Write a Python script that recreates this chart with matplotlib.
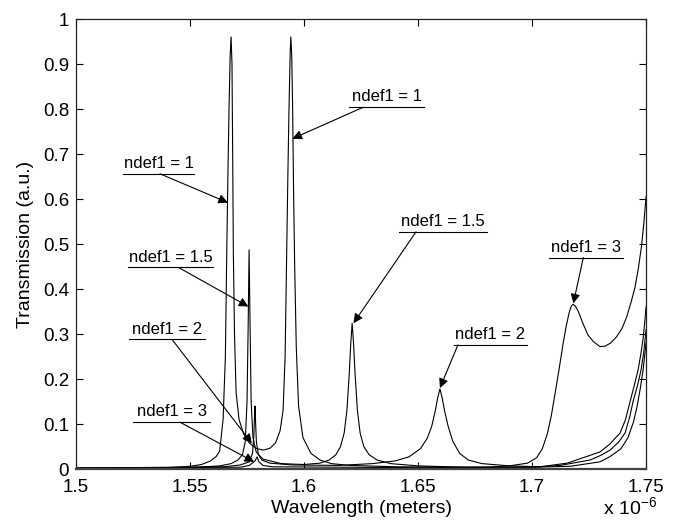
import matplotlib
matplotlib.use('Agg')
import matplotlib.pyplot as plt
import numpy as np

plt.rcParams['font.family'] = ['Liberation Sans', 'DejaVu Sans']
plt.rcParams['mathtext.fontset'] = 'custom'
plt.rcParams['mathtext.rm'] = 'Liberation Sans'

# transmission spectra, wavelength in micrometres (plotted as x 10^-6 m)
wl_n1 = [1.500, 1.540, 1.550, 1.555, 1.559, 1.5615, 1.5630, 1.5645, 1.5655, 1.5661,
         1.5666, 1.5671, 1.5676, 1.5680, 1.5684, 1.5687, 1.5690, 1.5695, 1.5702,
         1.5715, 1.5735, 1.5760, 1.5790, 1.5820, 1.5850, 1.5875, 1.5895, 1.5908,
         1.5917, 1.5923, 1.5929, 1.5934, 1.5939, 1.5942, 1.5946, 1.5950, 1.5954,
         1.5959, 1.5966, 1.5976, 1.5995, 1.6030, 1.6070, 1.6120, 1.6200, 1.6400,
         1.6700, 1.7000, 1.7167, 1.7298, 1.7340, 1.7390, 1.7421, 1.7445, 1.7461,
         1.7475, 1.7487, 1.7500]
tr_n1 = [0.002, 0.003, 0.006, 0.010, 0.018, 0.028, 0.040, 0.110, 0.250, 0.480,
         0.650, 0.800, 0.920, 0.960, 0.900, 0.700, 0.480, 0.300, 0.170,
         0.110, 0.078, 0.058, 0.046, 0.042, 0.046, 0.058, 0.085, 0.130,
         0.250, 0.450, 0.650, 0.800, 0.920, 0.960, 0.920, 0.800, 0.620,
         0.450, 0.270, 0.140, 0.070, 0.035, 0.020, 0.012, 0.008, 0.005,
         0.004, 0.004, 0.006, 0.016, 0.027, 0.045, 0.070, 0.105, 0.140,
         0.180, 0.220, 0.280]

wl_n15 = [1.500, 1.550, 1.563, 1.568, 1.5710, 1.5730, 1.5742, 1.5750, 1.5755, 1.5759,
          1.5763, 1.5768, 1.5776, 1.5790, 1.5820, 1.5900, 1.6000, 1.6070, 1.6110,
          1.6140, 1.6160, 1.6176, 1.6188, 1.6198, 1.6205, 1.6211, 1.6217, 1.6224,
          1.6234, 1.6246, 1.6262, 1.6285, 1.6320, 1.6380, 1.6500, 1.6700, 1.7000,
          1.7123, 1.7254, 1.7300, 1.7342, 1.7380, 1.7408, 1.7428, 1.7443, 1.7462,
          1.7478, 1.7490, 1.7500]
tr_n15 = [0.002, 0.003, 0.007, 0.012, 0.020, 0.032, 0.060, 0.150, 0.320, 0.487,
          0.330, 0.150, 0.070, 0.038, 0.022, 0.012, 0.010, 0.013, 0.020,
          0.032, 0.050, 0.080, 0.130, 0.210, 0.280, 0.324, 0.280, 0.210,
          0.130, 0.080, 0.050, 0.032, 0.020, 0.012, 0.007, 0.004, 0.004,
          0.008, 0.020, 0.030, 0.042, 0.060, 0.080, 0.115, 0.150, 0.185,
          0.220, 0.260, 0.310]

wl_n2 = [1.500, 1.565, 1.572, 1.5760, 1.5774, 1.5780, 1.5783, 1.5785, 1.5787, 1.5791,
         1.5800, 1.5815, 1.5850, 1.5950, 1.6150, 1.6300, 1.6400, 1.6460, 1.6510,
         1.6540, 1.6560, 1.6575, 1.6587, 1.6596, 1.6605, 1.6617, 1.6632, 1.6652,
         1.6682, 1.6720, 1.6780, 1.6900, 1.7035, 1.7154, 1.7298, 1.7340, 1.7386,
         1.7410, 1.7430, 1.7448, 1.7465, 1.7477, 1.7487, 1.7494, 1.7500]
tr_n2 = [0.002, 0.005, 0.009, 0.016, 0.035, 0.075, 0.120, 0.140, 0.110, 0.060,
         0.032, 0.020, 0.013, 0.009, 0.008, 0.012, 0.018, 0.027, 0.045,
         0.068, 0.095, 0.128, 0.160, 0.178, 0.160, 0.128, 0.095, 0.062,
         0.035, 0.020, 0.012, 0.007, 0.005, 0.013, 0.038, 0.055, 0.080,
         0.110, 0.150, 0.185, 0.220, 0.255, 0.290, 0.325, 0.360]

wl_n3 = [1.500, 1.572, 1.576, 1.5785, 1.5794, 1.5802, 1.5820, 1.5860, 1.6500, 1.6800,
         1.6900, 1.6980, 1.7020, 1.7045, 1.7068, 1.7085, 1.7100, 1.7118, 1.7135,
         1.7150, 1.7163, 1.7172, 1.7180, 1.7190, 1.7203, 1.7222, 1.7245, 1.7269,
         1.7298, 1.7320, 1.7345, 1.7371, 1.7395, 1.7415, 1.7435, 1.7452, 1.7466,
         1.7480, 1.7490, 1.7500]
tr_n3 = [0.002, 0.004, 0.008, 0.018, 0.027, 0.016, 0.008, 0.005, 0.003, 0.004,
         0.007, 0.013, 0.025, 0.045, 0.080, 0.120, 0.165, 0.220, 0.275,
         0.318, 0.348, 0.362, 0.366, 0.362, 0.350, 0.325, 0.298, 0.283,
         0.272, 0.273, 0.280, 0.294, 0.313, 0.338, 0.372, 0.405, 0.445,
         0.495, 0.545, 0.605]

# label text, underline centre/half-width, arrow start and tip (data units)
labels = ['ndef1 = 1', 'ndef1 = 1.5', 'ndef1 = 2', 'ndef1 = 3',
          'ndef1 = 1', 'ndef1 = 1.5', 'ndef1 = 2', 'ndef1 = 3']
label_xy = [(1.5362, 0.656), (1.5414, 0.448), (1.5399, 0.288), (1.5419, 0.104),
            (1.6362, 0.804), (1.6610, 0.527), (1.6818, 0.276), (1.7237, 0.470)]
line_half = [0.0156, 0.0187, 0.0167, 0.0169, 0.0165, 0.0193, 0.0160, 0.0162]
arrow_from = [1.5368, 1.5449, 1.5421, 1.5456, 1.6260, 1.6491, 1.6675, 1.7225]
arrow_to = [(1.5666, 0.592), (1.5756, 0.361), (1.5771, 0.057), (1.5781, 0.016),
            (1.5949, 0.734), (1.6217, 0.324), (1.6596, 0.180), (1.7181, 0.368)]

fig = plt.figure(figsize=(6.77, 5.22), dpi=100)
ax = fig.add_axes([0.1123, 0.1015, 0.8420, 0.8621])

for wl, tr in [(wl_n1, tr_n1), (wl_n15, tr_n15), (wl_n2, tr_n2), (wl_n3, tr_n3)]:
    ax.plot(wl, tr, color='k', lw=0.8)

for txt, (cx, ly), hw, ax0, tip in zip(labels, label_xy, line_half, arrow_from, arrow_to):
    ax.text(cx, ly + 0.013, txt, ha='center', va='baseline', fontsize=12)
    ax.plot([cx - hw, cx + hw], [ly, ly], color='k', lw=0.8, clip_on=False)
    ax.annotate('', xy=tip, xytext=(ax0, ly),
                arrowprops=dict(arrowstyle='-|>', color='k', lw=0.8,
                                mutation_scale=14, shrinkA=0, shrinkB=0))

ax.set_xlim(1.5, 1.75)
ax.set_ylim(0, 1)
ax.set_xticks([1.5, 1.55, 1.6, 1.65, 1.7, 1.75])
ax.set_xticklabels(['1.5', '1.55', '1.6', '1.65', '1.7', '1.75'])
ax.set_yticks(np.arange(0, 1.01, 0.1))
ax.set_yticklabels(['0', '0.1', '0.2', '0.3', '0.4', '0.5', '0.6', '0.7', '0.8', '0.9', '1'])
ax.tick_params(direction='in', top=True, right=True, length=5, width=0.8,
               labelsize=13.5)
ax.tick_params(axis='x', pad=7)
ax.tick_params(axis='y', pad=5)
for s in ax.spines.values():
    s.set_linewidth(0.9)
    s.set_color('#222222')
ax.spines['bottom'].set_linewidth(1.6)
ax.spines['bottom'].set_color('#444444')

ax.set_xlabel('Wavelength (meters)', fontsize=14, labelpad=3)
ax.set_ylabel('Transmission (a.u.)', fontsize=14, labelpad=6)
ax.text(1.019, -0.103, 'x 10$^{-6}$', transform=ax.transAxes, ha='right',
        va='baseline', fontsize=14)

fig.savefig('out.png', dpi=100)
